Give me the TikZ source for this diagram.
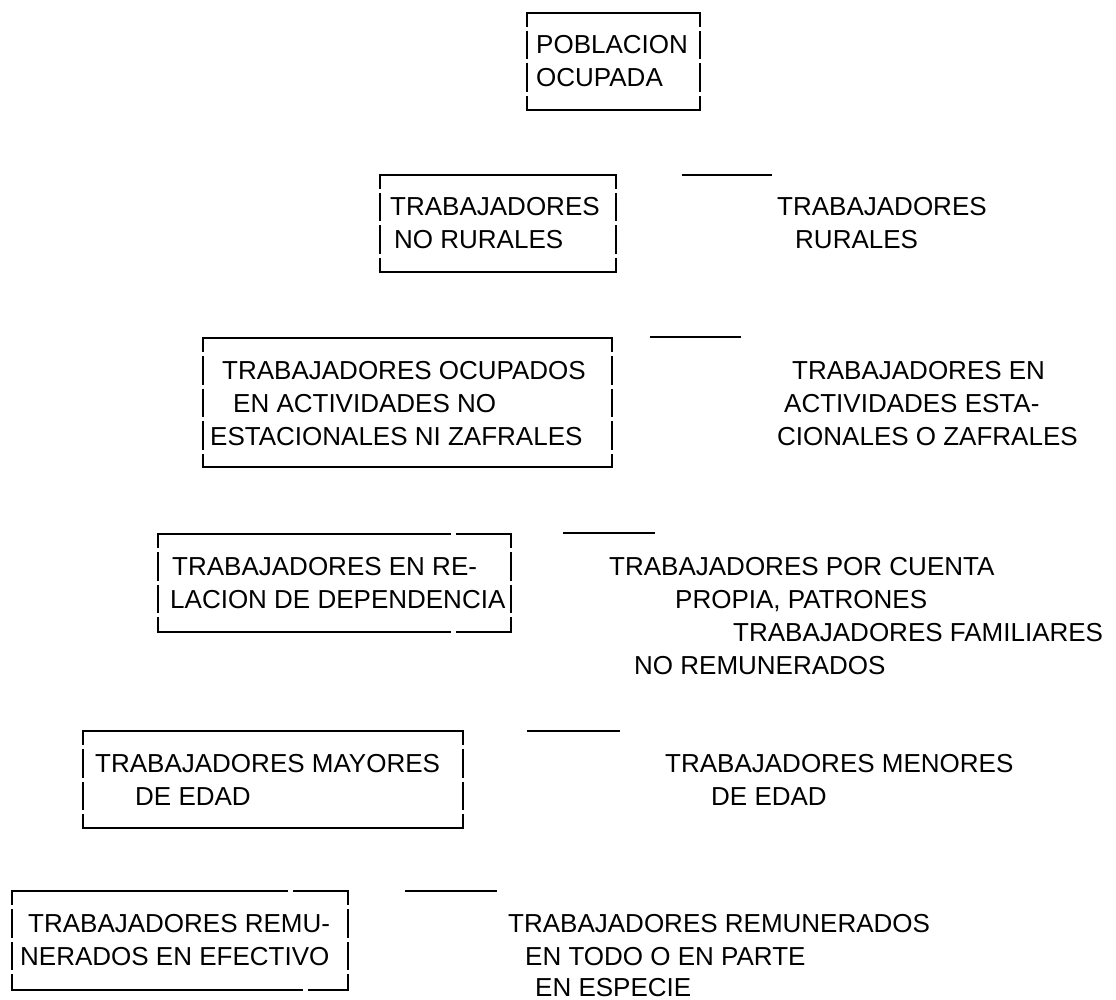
\documentclass[tikz,border=0pt]{standalone}
\usepackage{fontspec}
\setmainfont{Liberation Sans}
\begin{document}
\begin{tikzpicture}[x=1pt, y=-1pt, font=\fontsize{26}{32}\selectfont]

        % Styles
        \tikzstyle{frame} = [draw=black, line width=1.6pt, line cap=rect]
        \tikzstyle{side} = [draw=black, line width=1.6pt, dash pattern=on 28.5pt off 4pt, dash phase=14.5pt]
        \tikzstyle{stub} = [draw=black, line width=1.6pt]
        \tikzstyle{txt} = [anchor=base west, inner sep=0pt]

        \useasboundingbox (0,0) rectangle (1116,1000);

        % Poblacion ocupada
        \draw[frame] (527,13) -- (700,13) (527,110) -- (700,110);
        \draw[side] (527,13) -- (527,110) (700,13) -- (700,110);
        \node[txt] (pob1) at (536,54) {POBLACION};
        \node[txt] (pob2) at (536,87) {OCUPADA};

        % No rurales / rurales
        \draw[frame] (380,175) -- (616,175) (380,272) -- (616,272);
        \draw[side] (380,175) -- (380,272) (616,175) -- (616,272);
        \node[txt] (nrur1) at (390,216) {TRABAJADORES};
        \node[txt] (nrur2) at (394,249) {NO RURALES};
        \draw[stub] (682,175) -- (772,175);
        \node[txt] (rur1) at (777,216) {TRABAJADORES};
        \node[txt] (rur2) at (795,249) {RURALES};

        % No estacionales / estacionales
        \draw[frame] (203,338) -- (612,338) (203,467) -- (612,467);
        \draw[side] (203,338) -- (203,467) (612,338) -- (612,467);
        \node[txt] (nest1) at (222,379) {TRABAJADORES OCUPADOS};
        \node[txt] (nest2) at (233,412) {EN ACTIVIDADES NO};
        \node[txt] (nest3) at (210,445) {ESTACIONALES NI ZAFRALES};
        \draw[stub] (650,337) -- (741,337);
        \node[txt] (est1) at (792,379) {TRABAJADORES EN};
        \node[txt] (est2) at (784,412) {ACTIVIDADES ESTA-};
        \node[txt] (est3) at (777,445) {CIONALES O ZAFRALES};

        % Dependencia / cuenta propia
        \draw[frame] (158,534) -- (450,534) (457,534) -- (511,534)
                     (158,632) -- (450,632) (457,632) -- (511,632);
        \draw[side] (158,534) -- (158,632) (511,534) -- (511,632);
        \node[txt] (dep1) at (172,575) {TRABAJADORES EN RE-};
        \node[txt] (dep2) at (170,608) {LACION DE DEPENDENCIA};
        \draw[stub] (563,533) -- (655,533);
        \node[txt] (cta1) at (609,575) {TRABAJADORES POR CUENTA};
        \node[txt] (cta2) at (675,608) {PROPIA, PATRONES};
        \node[txt] (cta3) at (733,641) {TRABAJADORES FAMILIARES};
        \node[txt] (cta4) at (634,674) {NO REMUNERADOS};

        % Mayores / menores
        \draw[frame] (83,731) -- (463,731) (83,828) -- (463,828);
        \draw[side] (83,731) -- (83,828) (463,731) -- (463,828);
        \node[txt] (may1) at (95,772) {TRABAJADORES MAYORES};
        \node[txt] (may2) at (135,805) {DE EDAD};
        \draw[stub] (527,731) -- (620,731);
        \node[txt] (men1) at (665,772) {TRABAJADORES MENORES};
        \node[txt] (men2) at (711,805) {DE EDAD};

        % Efectivo / especie
        \draw[frame] (12,891) -- (287,891) (294,891) -- (348,891)
                     (12,990) -- (302,990) (309,990) -- (348,990);
        \draw[side] (12,891) -- (12,990) (348,891) -- (348,990);
        \node[txt] (efe1) at (28,932) {TRABAJADORES REMU-};
        \node[txt] (efe2) at (20,965) {NERADOS EN EFECTIVO};
        \draw[stub] (405,891) -- (497,891);
        \node[txt] (esp1) at (508,932) {TRABAJADORES REMUNERADOS};
        \node[txt] (esp2) at (525,965) {EN TODO O EN PARTE};
        \node[txt] (esp3) at (535,996) {EN ESPECIE};

\end{tikzpicture}
\end{document}
